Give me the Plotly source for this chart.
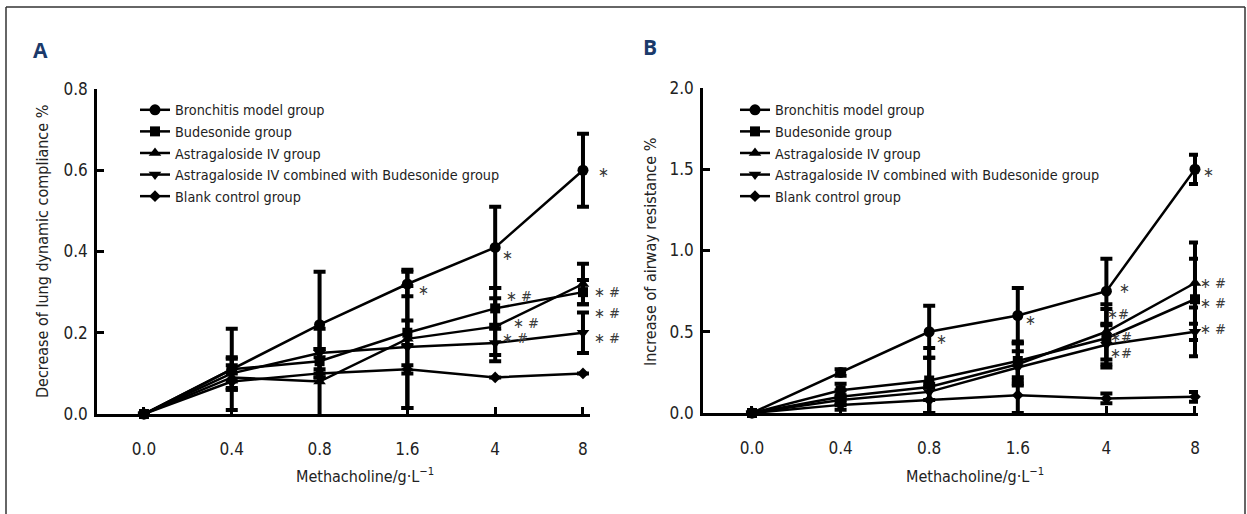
import plotly.graph_objects as go

W, H = 1247, 514

# ---------------- data ----------------
doses = ["0.0", "0.4", "0.8", "1.6", "4", "8"]
groups = ["Bronchitis model group", "Budesonide group", "Astragaloside IV group",
          "Astragaloside IV combined with Budesonide group", "Blank control group"]
symbols = ["circle", "square", "triangle-up", "triangle-down", "diamond"]
msizes = [11, 10, 11, 11, 9]

# Panel A: decrease of lung dynamic compliance %
a_bronchitis = [0.0, 0.11, 0.22, 0.32, 0.41, 0.60]
a_budesonide = [0.0, 0.11, 0.13, 0.20, 0.26, 0.30]
a_astragal = [0.0, 0.09, 0.08, 0.185, 0.215, 0.32]
a_combined = [0.0, 0.10, 0.15, 0.165, 0.175, 0.20]
a_blank = [0.0, 0.08, 0.10, 0.11, 0.09, 0.10]
a_err_bronchitis = [0.0, 0.10, 0.13, 0.03, 0.10, 0.09]
a_err_budesonide = [0.0, 0.03, 0.03, 0.03, 0.05, 0.03]
a_err_astragal = [0.0, 0.03, 0.13, 0.17, 0.07, 0.05]
a_err_combined = [0.0, 0.036, 0.01, 0.15, 0.045, 0.05]
a_err_blank = [0.0, 0.02, 0.01, 0.01, 0.0, 0.0]

# Panel B: increase of airway resistance %
b_bronchitis = [0.0, 0.25, 0.50, 0.60, 0.75, 1.50]
b_budesonide = [0.0, 0.14, 0.20, 0.32, 0.46, 0.70]
b_astragal = [0.0, 0.10, 0.16, 0.30, 0.50, 0.80]
b_combined = [0.0, 0.08, 0.13, 0.28, 0.42, 0.50]
b_blank = [0.0, 0.05, 0.08, 0.11, 0.09, 0.10]
b_err_bronchitis = [0.0, 0.02, 0.16, 0.17, 0.20, 0.09]
b_err_budesonide = [0.0, 0.04, 0.20, 0.12, 0.18, 0.25]
b_err_astragal = [0.0, 0.04, 0.18, 0.13, 0.17, 0.25]
b_err_combined = [0.0, 0.03, 0.05, 0.10, 0.12, 0.15]
b_err_blank = [0.0, 0.03, 0.08, 0.11, 0.03, 0.03]

a_series = [a_bronchitis, a_budesonide, a_astragal, a_combined, a_blank]
a_errs = [a_err_bronchitis, a_err_budesonide, a_err_astragal, a_err_combined, a_err_blank]
b_series = [b_bronchitis, b_budesonide, b_astragal, b_combined, b_blank]
b_errs = [b_err_bronchitis, b_err_budesonide, b_err_astragal, b_err_combined, b_err_blank]

# significance marks: (series index, dose index, text, xshift, yshift)
a_marks = [(0, 5, "∗", 21, -2), (0, 4, "∗", 12, -8), (0, 3, "∗", 16, -6),
           (1, 4, "∗ #", 24, 12), (2, 4, "∗ #", 31, 4), (3, 4, "∗ #", 20, 5),
           (2, 5, "∗ #", 24, -8), (1, 5, "∗ #", 24, -21), (3, 5, "∗ #", 24, -5)]
b_marks = [(0, 5, "∗", 14, -3), (0, 4, "∗", 18, 3), (0, 3, "∗", 13, -4), (0, 2, "∗", 12, -7),
           (2, 4, "∗#", 12, 18), (1, 4, "∗#", 15, 1), (3, 4, "∗#", 15, -8),
           (2, 5, "∗ #", 18, 0), (1, 5, "∗ #", 18, -4), (3, 5, "∗ #", 18, 3)]

FONT = "Liberation Sans Narrow, DejaVu Sans Condensed, sans-serif"
xs = list(range(len(doses)))

fig = go.Figure()


def px_x(p):
    return p / W


def px_y(p):
    return 1 - p / H


panels = [
    dict(series=a_series, errs=a_errs, xa="x", ya="y", legend="legend", marks=a_marks),
    dict(series=b_series, errs=b_errs, xa="x2", ya="y2", legend="legend2", marks=b_marks),
]

for pan in panels:
    for i, (vals, err) in enumerate(zip(pan["series"], pan["errs"])):
        fig.add_trace(go.Scatter(
            x=xs, y=vals, name=groups[i], mode="lines+markers",
            xaxis=pan["xa"], yaxis=pan["ya"], legend=pan["legend"],
            line=dict(color="black", width=2.5),
            marker=dict(symbol=symbols[i], size=msizes[i], color="black"),
            error_y=dict(type="data", array=err, visible=True, color="black",
                         thickness=4, width=6),
            cliponaxis=False,
        ))
    for (si, di, txt, dx, dy) in pan["marks"]:
        fig.add_annotation(x=xs[di], y=pan["series"][si][di], xref=pan["xa"], yref=pan["ya"],
                           text=txt, showarrow=False, xanchor="center", yanchor="middle",
                           xshift=dx, yshift=dy,
                           font=dict(family="DejaVu Sans Condensed, " + FONT, size=14.5, color="#3a3a3a"))

axis_common = dict(showline=True, linecolor="black", linewidth=2.5, ticks="inside",
                   tickcolor="black", tickwidth=2.5, ticklen=7, showgrid=False,
                   zeroline=False, automargin=False,
                   tickfont=dict(family=FONT, size=17, color="#222"))

legend_font = dict(family=FONT, size=14.3, color="#222")

fig.update_layout(
    width=W, height=H, margin=dict(l=0, r=0, t=0, b=0, pad=0, autoexpand=False),
    autosize=False,
    paper_bgcolor="white", plot_bgcolor="white",
    xaxis=dict(domain=[px_x(97), px_x(590)], range=[-0.535, 5.08], anchor="y",
               tickmode="array", tickvals=xs, ticktext=doses, ticklabelstandoff=18,
               **axis_common),
    yaxis=dict(domain=[px_y(414), px_y(89)], range=[0, 0.8], anchor="x",
               tickmode="array", tickvals=[0, 0.2, 0.4, 0.6, 0.8],
               ticktext=["0.0", "0.2", "0.4", "0.6", "0.8"], ticklabelstandoff=3,
               **axis_common),
    xaxis2=dict(domain=[px_x(703), px_x(1198)], range=[-0.553, 5.034], anchor="y2",
                tickmode="array", tickvals=xs, ticktext=doses, ticklabelstandoff=18,
                **axis_common),
    yaxis2=dict(domain=[px_y(413), px_y(88)], range=[0, 2.0], anchor="x2",
                tickmode="array", tickvals=[0, 0.5, 1.0, 1.5, 2.0],
                ticktext=["0.0", "0.5", "1.0", "1.5", "2.0"], ticklabelstandoff=3,
                **axis_common),
    legend=dict(x=px_x(135), y=px_y(94), xanchor="left", yanchor="top",
                bgcolor="rgba(0,0,0,0)", itemwidth=30, tracegroupgap=0,
                font=legend_font),
    legend2=dict(x=px_x(735), y=px_y(94), xanchor="left", yanchor="top",
                 bgcolor="rgba(0,0,0,0)", itemwidth=30, tracegroupgap=0,
                 font=legend_font),
    showlegend=True,
)

label_font = dict(family=FONT, size=16, color="#222")

# panel letters
fig.add_annotation(x=px_x(40), y=px_y(50), xref="paper", yref="paper", text="<b>A</b>",
                   xanchor="center", yanchor="middle", showarrow=False,
                   font=dict(family="Open Sans, sans-serif", size=21, color="#1b3a6b"))
fig.add_annotation(x=px_x(650), y=px_y(47), xref="paper", yref="paper", text="<b>B</b>",
                   xanchor="center", yanchor="middle", showarrow=False,
                   font=dict(family="Open Sans, sans-serif", size=21, color="#1b3a6b"))

# axis titles
fig.add_annotation(x=px_x(42), y=px_y(252), xref="paper", yref="paper",
                   xanchor="center", yanchor="middle",
                   text="Decrease of lung dynamic compliance %", textangle=-90, showarrow=False,
                   font=label_font)
fig.add_annotation(x=px_x(650), y=px_y(252), xref="paper", yref="paper",
                   xanchor="center", yanchor="middle",
                   text="Increase of airway resistance %", textangle=-90, showarrow=False,
                   font=label_font)
fig.add_annotation(x=px_x(365), y=px_y(475), xref="paper", yref="paper",
                   xanchor="center", yanchor="middle",
                   text="Methacholine/g·L<sup>−1</sup>", showarrow=False, font=label_font)
fig.add_annotation(x=px_x(975), y=px_y(475), xref="paper", yref="paper",
                   xanchor="center", yanchor="middle",
                   text="Methacholine/g·L<sup>−1</sup>", showarrow=False, font=label_font)

# frame
for (x0, y0, x1, y1) in [(6, 7, 1245, 7), (6, 7, 6, 514), (1245, 7, 1245, 514)]:
    fig.add_shape(type="line", xref="paper", yref="paper",
                  x0=px_x(x0), y0=px_y(y0), x1=px_x(x1), y1=px_y(y1),
                  line=dict(color="#333", width=1.5))

fig.write_html("out.html", config={"responsive": False, "displayModeBar": False},
               post_script="document.body.style.margin='0';document.body.style.overflow='hidden';")
